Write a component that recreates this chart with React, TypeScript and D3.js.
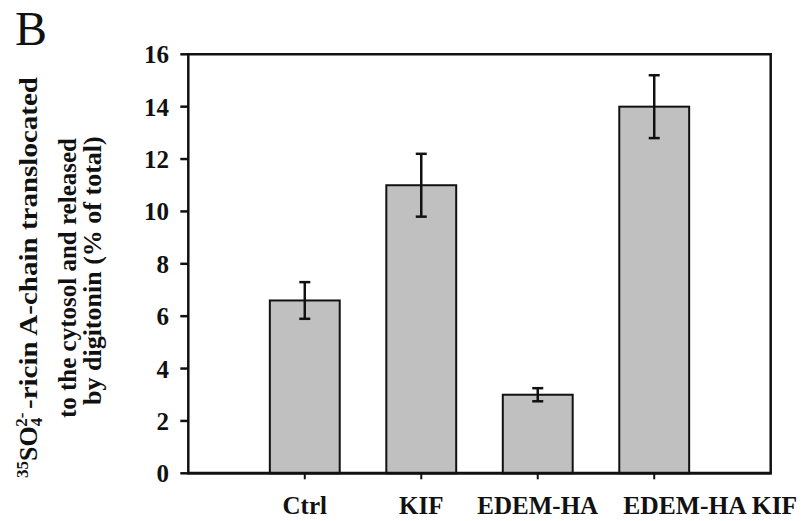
import React from "react";
import * as d3 from "d3";

const categories = ["Ctrl", "KIF", "EDEM-HA", "EDEM-HA KIF"];
const values = [6.6, 11.0, 3.0, 14.0];
const errors = [0.7, 1.2, 0.25, 1.2];
const yTicks = [0, 2, 4, 6, 8, 10, 12, 14, 16];
const labelShift = [0, 0, 0, 56];

const W = 808;
const H = 521;
const left = 188.3;
const right = 770.7;
const top = 54.3;
const bottom = 473.3;
const FONT = "'Liberation Serif', 'Times New Roman', serif";

export default function App() {
  const x = d3.scalePoint<string>().domain(categories).range([left, right]).padding(1);
  const y = d3.scaleLinear().domain([0, 16]).range([bottom, top]);
  const barW = x.step() * 0.6;

  return (
    <svg width={W} height={H} style={{ position: "absolute", left: 0, top: 0, background: "#fff" }}>
      <rect x={0} y={0} width={W} height={H} fill="#fff" />
      <text x={15} y={45} fontFamily={FONT} fontSize={48} fill="#111">B</text>

      {/* bars */}
      {categories.map((c, i) => (
        <rect key={c} x={x(c)! - barW / 2} y={y(values[i])} width={barW} height={y(0) - y(values[i])}
          fill="#c0c0c0" stroke="#111" strokeWidth={2} />
      ))}
      {/* error bars */}
      {categories.map((c, i) => {
        const cx = x(c)!;
        const hi = y(values[i] + errors[i]);
        const lo = y(values[i] - errors[i]);
        return (
          <g key={"e" + c} stroke="#111" strokeWidth={2.5}>
            <line x1={cx} x2={cx} y1={hi} y2={lo} />
            <line x1={cx - 5.5} x2={cx + 5.5} y1={hi} y2={hi} />
            <line x1={cx - 5.5} x2={cx + 5.5} y1={lo} y2={lo} />
          </g>
        );
      })}

      {/* frame */}
      <path d={`M${left},${bottom}V${top}H${right}V${bottom}`} fill="none" stroke="#111" strokeWidth={2.5} />
      <line x1={left - 1} x2={right + 1.2} y1={bottom} y2={bottom} stroke="#111" strokeWidth={3} />

      {/* y ticks */}
      {yTicks.map((t) => (
        <g key={"y" + t}>
          <line x1={left - 8} x2={left} y1={y(t)} y2={y(t)} stroke="#111" strokeWidth={2.5} />
          <text x={169} y={y(t)} dy="0.36em" textAnchor="end" fontFamily={FONT} fontWeight="bold" fontSize={25} fill="#111">{t}</text>
        </g>
      ))}

      {/* x ticks */}
      {categories.map((c, i) => (
        <g key={"x" + c}>
          <line x1={x(c)!} x2={x(c)!} y1={bottom} y2={bottom + 6} stroke="#111" strokeWidth={2} />
          <text x={x(c)! + labelShift[i]} y={514} textAnchor="middle" fontFamily={FONT} fontWeight="bold" fontSize={25} fill="#111"
            textLength={c === "EDEM-HA KIF" ? 174 : undefined} lengthAdjust="spacingAndGlyphs">{c}</text>
        </g>
      ))}

      {/* y title */}
      <g fontFamily={FONT} fontWeight="bold" fontSize={26} fill="#111">
        <text transform={`translate(37,478) rotate(-90)`} textAnchor="start">
          <tspan fontSize={17} dy={-9}>35</tspan>
          <tspan dy={9}>SO</tspan>
          <tspan fontSize={17} dy={5}>4</tspan>
          <tspan fontSize={17} dx={-9} dy={-15}>2-</tspan>
        </text>
        <text transform={`translate(37,409) rotate(-90)`} textAnchor="start" textLength={332} lengthAdjust="spacingAndGlyphs">-ricin A-chain translocated</text>
        <text transform={`translate(76,418) rotate(-90)`} textAnchor="start" fontSize={25} textLength={280} lengthAdjust="spacing">to the cytosol and released</text>
        <text transform={`translate(101,405) rotate(-90)`} textAnchor="start">by digitonin (% of total)</text>
      </g>
    </svg>
  );
}
